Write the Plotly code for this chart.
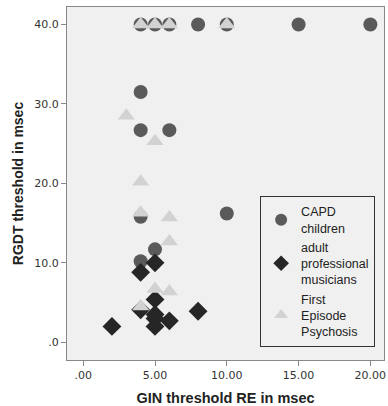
import plotly.graph_objects as go

# CAPD children (circles)
capd_x = [4, 5, 6, 8, 10, 15, 20, 4, 4, 6, 4, 10, 5, 4]
capd_y = [40, 40, 40, 40, 40, 40, 40, 31.5, 26.7, 26.7, 15.8, 16.2, 11.7, 10.2]

# adult professional musicians (diamonds)
mus_x = [5, 4, 5, 4, 5, 5, 5, 6, 2, 8]
mus_y = [10.0, 8.8, 5.4, 4.1, 3.5, 3.0, 2.0, 2.7, 2.0, 3.9]

# First Episode Psychosis (triangles)
fep_x = [4, 5, 6, 10, 3, 5, 4, 4, 6, 6, 5, 6, 4]
fep_y = [40, 40, 40, 40, 28.5, 25.3, 20.2, 16.3, 15.7, 12.7, 6.7, 6.4, 4.5]

x_ticks = [0, 5, 10, 15, 20]
x_tick_text = [".00", "5.00", "10.00", "15.00", "20.00"]
y_ticks = [0, 10, 20, 30, 40]
y_tick_text = [".0", "10.0", "20.0", "30.0", "40.0"]

fig = go.Figure()
fig.add_trace(go.Scatter(
    x=capd_x, y=capd_y, mode="markers", name="CAPD<br>children",
    marker=dict(symbol="circle", size=14, color="#5a5a5a", line=dict(width=0)),
))
fig.add_trace(go.Scatter(
    x=mus_x, y=mus_y, mode="markers", name="adult<br>professional<br>musicians",
    marker=dict(symbol="diamond", size=14.5, color="#262626", line=dict(width=0)),
))
fig.add_trace(go.Scatter(
    x=fep_x, y=fep_y, mode="markers", name="First<br>Episode<br>Psychosis",
    marker=dict(symbol="triangle-up", size=15, color="#d2d2d2", line=dict(width=0)),
))

tick_font = dict(family="DejaVu Sans", size=11, color="#333333")
title_font = dict(family="Liberation Sans, Arial", size=14.5, color="#222222")

fig.update_layout(
    width=388, height=406,
    margin=dict(l=67, r=2, t=7, b=46),
    paper_bgcolor="white",
    plot_bgcolor="#f0f0f0",
    showlegend=True,
    legend=dict(
        x=0.972, y=0.037, xanchor="right", yanchor="bottom",
        bgcolor="#f0f0f0", bordercolor="#333333", borderwidth=1,
        font=dict(family="Liberation Sans, Arial", size=12.5, color="#222222"),
        itemsizing="constant", itemwidth=30,
    ),
    xaxis=dict(
        range=[-1.13, 20.95], tickvals=x_ticks, ticktext=x_tick_text,
        showgrid=False, zeroline=False,
        showline=True, linecolor="#888888", linewidth=1, mirror=True,
        ticks="outside", ticklen=5, tickcolor="#888888",
        tickfont=tick_font, ticklabeloverflow="allow",
        title=dict(text="<b>GIN threshold RE in msec</b>", font=title_font, standoff=11),
    ),
    yaxis=dict(
        range=[-2.23, 42.2], tickvals=y_ticks, ticktext=y_tick_text,
        showgrid=False, zeroline=False,
        showline=True, linecolor="#888888", linewidth=1, mirror=True,
        ticks="outside", ticklen=5, tickcolor="#888888",
        tickfont=tick_font,
        title=dict(text="<b>RGDT threshold in msec</b>", font=dict(family="Liberation Sans, Arial", size=14, color="#222222"), standoff=7),
    ),
)

fig.write_html(
    "out.html",
    config={"displayModeBar": False},
    post_script="document.body.style.margin='0';document.body.style.overflow='hidden';",
)
